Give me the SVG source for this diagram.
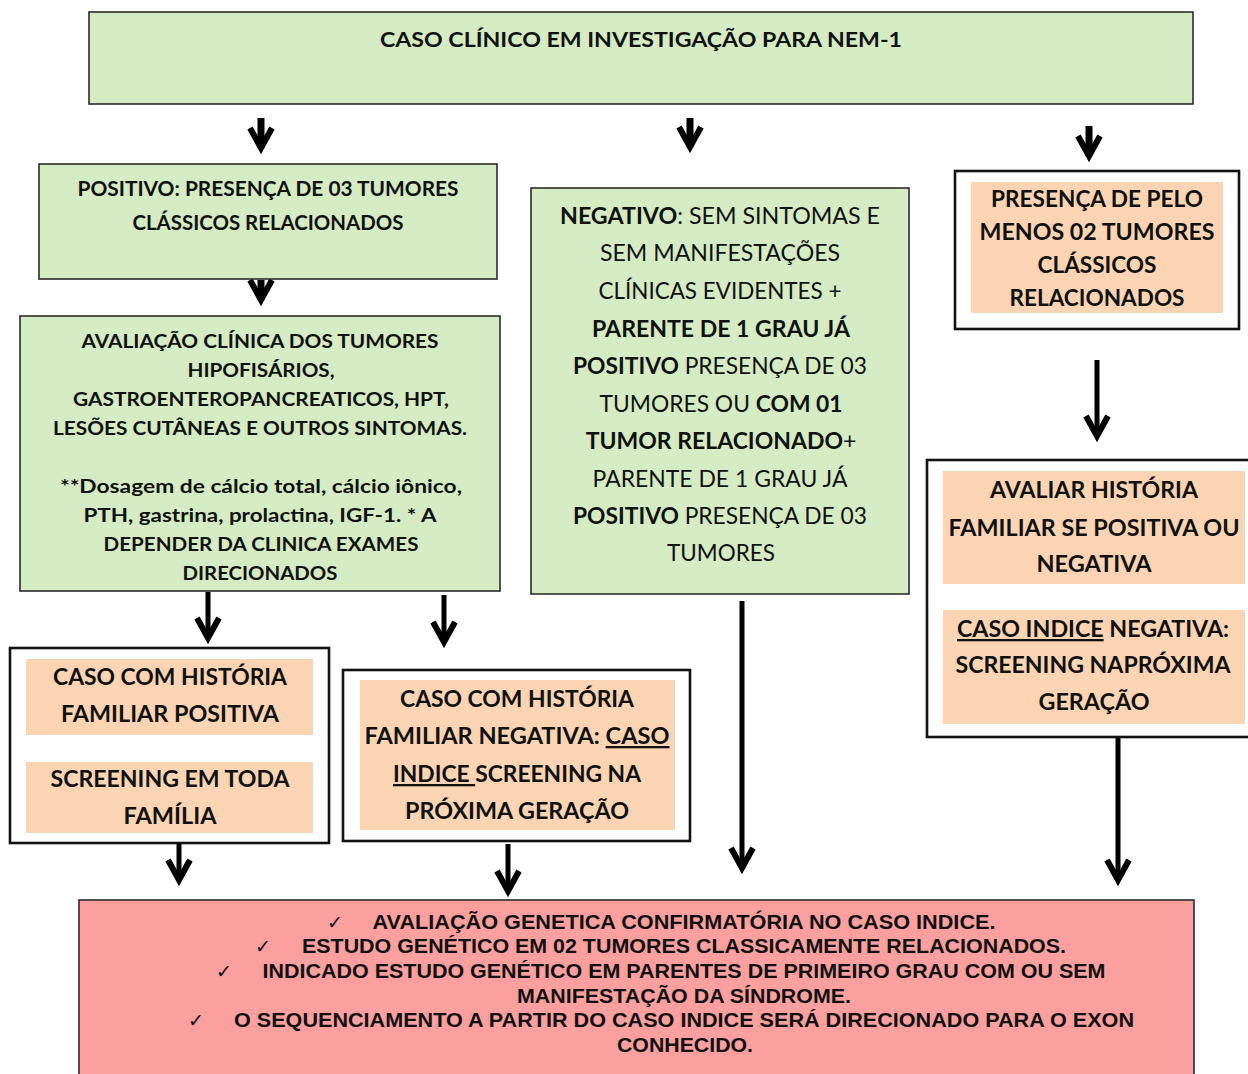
<svg xmlns="http://www.w3.org/2000/svg" width="1248" height="1074" viewBox="0 0 1248 1074">
<style>
.g{fill:#D5EBC3;stroke:#2b2b2b;stroke-width:1.6}
.w{fill:#ffffff;stroke:#111;stroke-width:2.6}
.p{fill:#FBD4B4;stroke:none}
.r{fill:#FB9F9F;stroke:#2b2b2b;stroke-width:1.6}
.t{font-family:Lato,"Liberation Sans",sans-serif;font-size:21px;fill:#111;text-anchor:middle}
.b{font-weight:bold}
.n{font-weight:normal}
.s{font-size:19px}
.l{font-size:23px}
.a{font-family:"Liberation Sans",Arial,sans-serif;font-weight:bold;font-size:20px;fill:#111;text-anchor:middle}
.ck{font-family:"DejaVu Sans",sans-serif;font-size:19px;fill:#111;text-anchor:middle}
.u{text-decoration:underline}
.c1{fill:none;stroke:#000;stroke-width:7}
.c2{fill:none;stroke:#000;stroke-width:5}
</style>
<defs>
<marker id="ah" markerUnits="userSpaceOnUse" orient="auto" markerWidth="40" markerHeight="40" refX="0" refY="0" viewBox="-30 -20 40 40" overflow="visible">
<path d="M-20,-11 L0,0 L-20,11" fill="none" stroke="#000" stroke-width="6" stroke-linejoin="miter"/>
</marker>
</defs>

<g id="connectors">
<line class="c1" x1="261" y1="118" x2="261" y2="148" marker-end="url(#ah)"/>
<line class="c1" x1="690" y1="118" x2="690" y2="147" marker-end="url(#ah)"/>
<line class="c1" x1="1089" y1="126" x2="1089" y2="156" marker-end="url(#ah)"/>
<line class="c1" x1="261" y1="280" x2="261" y2="300" marker-end="url(#ah)"/>
<line class="c2" x1="208" y1="592" x2="208" y2="638" marker-end="url(#ah)"/>
<line class="c2" x1="444" y1="595" x2="444" y2="642" marker-end="url(#ah)"/>
<line class="c2" x1="742" y1="601" x2="742" y2="868" marker-end="url(#ah)"/>
<line class="c2" x1="1097" y1="360" x2="1097" y2="436" marker-end="url(#ah)"/>
<line class="c2" x1="179" y1="843" x2="179" y2="880" marker-end="url(#ah)"/>
<line class="c2" x1="508" y1="844" x2="508" y2="891" marker-end="url(#ah)"/>
<line class="c2" x1="1118" y1="737" x2="1118" y2="880" marker-end="url(#ah)"/>
</g>

<g id="n-top">
<rect class="g" x="89" y="12" width="1104" height="92"/>
<text class="t b" x="641" y="47" textLength="522" lengthAdjust="spacingAndGlyphs">CASO CLÍNICO EM INVESTIGAÇÃO PARA NEM-1</text>
</g>

<g id="n-positivo">
<rect class="g" x="39" y="164" width="458" height="115"/>
<text class="t b" x="268" y="196" textLength="381" lengthAdjust="spacingAndGlyphs">POSITIVO: PRESENÇA DE 03 TUMORES</text>
<text class="t b" x="268" y="230" textLength="271" lengthAdjust="spacingAndGlyphs">CLÁSSICOS RELACIONADOS</text>
</g>

<g id="n-avaliacao">
<rect class="g" x="20" y="316" width="480" height="275"/>
<text class="t b s" x="260" y="348" textLength="357" lengthAdjust="spacingAndGlyphs">AVALIAÇÃO CLÍNICA DOS TUMORES</text>
<text class="t b s" x="261" y="377" textLength="147" lengthAdjust="spacingAndGlyphs">HIPOFISÁRIOS,</text>
<text class="t b s" x="261" y="406" textLength="376" lengthAdjust="spacingAndGlyphs">GASTROENTEROPANCREATICOS, HPT,</text>
<text class="t b s" x="260" y="435" textLength="414" lengthAdjust="spacingAndGlyphs">LESÕES CUTÂNEAS E OUTROS SINTOMAS.</text>
<text class="t b s" x="261" y="493" textLength="402" lengthAdjust="spacingAndGlyphs">**Dosagem de cálcio total, cálcio iônico,</text>
<text class="t b s" x="260" y="522" textLength="353" lengthAdjust="spacingAndGlyphs">PTH, gastrina, prolactina, IGF-1. * A</text>
<text class="t b s" x="261" y="551" textLength="315" lengthAdjust="spacingAndGlyphs">DEPENDER DA CLINICA EXAMES</text>
<text class="t b s" x="260" y="580" textLength="155" lengthAdjust="spacingAndGlyphs">DIRECIONADOS</text>
</g>

<g id="n-negativo">
<rect class="g" x="531" y="188" width="378" height="406"/>
<text class="t l" x="720" y="224" textLength="320" lengthAdjust="spacingAndGlyphs"><tspan class="b">NEGATIVO</tspan>: SEM SINTOMAS E</text>
<text class="t l" x="720" y="261" textLength="240" lengthAdjust="spacingAndGlyphs">SEM MANIFESTAÇÕES</text>
<text class="t l" x="720" y="299" textLength="243" lengthAdjust="spacingAndGlyphs">CLÍNICAS EVIDENTES +</text>
<text class="t l b" x="721" y="337" textLength="258" lengthAdjust="spacingAndGlyphs">PARENTE DE 1 GRAU JÁ</text>
<text class="t l" x="720" y="374" textLength="294" lengthAdjust="spacingAndGlyphs"><tspan class="b">POSITIVO</tspan> PRESENÇA DE 03</text>
<text class="t l" x="721" y="412" textLength="243" lengthAdjust="spacingAndGlyphs">TUMORES OU <tspan class="b">COM 01</tspan></text>
<text class="t l" x="721" y="449"><tspan class="b">TUMOR RELACIONADO</tspan>+</text>
<text class="t l" x="720" y="487" textLength="255" lengthAdjust="spacingAndGlyphs">PARENTE DE 1 GRAU JÁ</text>
<text class="t l" x="720" y="524" textLength="294" lengthAdjust="spacingAndGlyphs"><tspan class="b">POSITIVO</tspan> PRESENÇA DE 03</text>
<text class="t l" x="721" y="561" textLength="108" lengthAdjust="spacingAndGlyphs">TUMORES</text>
</g>

<g id="n-pelo-menos">
<rect class="w" x="955" y="171" width="284" height="158"/>
<rect class="p" x="971" y="182" width="252" height="131"/>
<text class="t b l" x="1097" y="207" textLength="212" lengthAdjust="spacingAndGlyphs">PRESENÇA DE PELO</text>
<text class="t b l" x="1097" y="240" textLength="235" lengthAdjust="spacingAndGlyphs">MENOS 02 TUMORES</text>
<text class="t b l" x="1097" y="273" textLength="119" lengthAdjust="spacingAndGlyphs">CLÁSSICOS</text>
<text class="t b l" x="1097" y="306" textLength="175" lengthAdjust="spacingAndGlyphs">RELACIONADOS</text>
</g>

<g id="n-avaliar-historia">
<rect class="w" x="927" y="460" width="330" height="277"/>
<rect class="p" x="943" y="471" width="302" height="113"/>
<rect class="p" x="943" y="610" width="302" height="114"/>
<text class="t b l" x="1094" y="498" textLength="208" lengthAdjust="spacingAndGlyphs">AVALIAR HISTÓRIA</text>
<text class="t b l" x="1094" y="536" textLength="291" lengthAdjust="spacingAndGlyphs">FAMILIAR SE POSITIVA OU</text>
<text class="t b l" x="1094" y="572" textLength="115" lengthAdjust="spacingAndGlyphs">NEGATIVA</text>
<text class="t b l" x="1093" y="637" textLength="272" lengthAdjust="spacingAndGlyphs"><tspan class="u">CASO INDICE</tspan> NEGATIVA:</text>
<text class="t b l" x="1093" y="673" textLength="275" lengthAdjust="spacingAndGlyphs">SCREENING NAPRÓXIMA</text>
<text class="t b l" x="1094" y="710" textLength="111" lengthAdjust="spacingAndGlyphs">GERAÇÃO</text>
</g>

<g id="n-hist-positiva">
<rect class="w" x="10" y="648" width="319" height="195"/>
<rect class="p" x="26" y="659" width="287" height="76"/>
<rect class="p" x="26" y="762" width="287" height="71"/>
<text class="t b l" x="170" y="685" textLength="234" lengthAdjust="spacingAndGlyphs">CASO COM HISTÓRIA</text>
<text class="t b l" x="170" y="722" textLength="218" lengthAdjust="spacingAndGlyphs">FAMILIAR POSITIVA</text>
<text class="t b l" x="170" y="787" textLength="239" lengthAdjust="spacingAndGlyphs">SCREENING EM TODA</text>
<text class="t b l" x="170" y="824" textLength="93" lengthAdjust="spacingAndGlyphs">FAMÍLIA</text>
</g>

<g id="n-hist-negativa">
<rect class="w" x="343" y="670" width="347" height="171"/>
<rect class="p" x="360" y="680" width="315" height="150"/>
<text class="t b l" x="517" y="707" textLength="234" lengthAdjust="spacingAndGlyphs">CASO COM HISTÓRIA</text>
<text class="t b l" x="517" y="744" textLength="305" lengthAdjust="spacingAndGlyphs">FAMILIAR NEGATIVA: <tspan class="u">CASO</tspan></text>
<text class="t b l" x="517" y="782" textLength="248" lengthAdjust="spacingAndGlyphs"><tspan class="u">INDICE </tspan>SCREENING NA</text>
<text class="t b l" x="517" y="819" textLength="224" lengthAdjust="spacingAndGlyphs">PRÓXIMA GERAÇÃO</text>
</g>

<g id="n-genetica">
<rect class="r" x="79" y="900" width="1115" height="200"/>
<text class="ck" x="335" y="929">✓</text>
<text class="a" x="684" y="929" textLength="623" lengthAdjust="spacingAndGlyphs">AVALIAÇÃO GENETICA CONFIRMATÓRIA NO CASO INDICE.</text>
<text class="ck" x="263" y="953">✓</text>
<text class="a" x="684" y="953" textLength="764" lengthAdjust="spacingAndGlyphs">ESTUDO GENÉTICO EM 02 TUMORES CLASSICAMENTE RELACIONADOS.</text>
<text class="ck" x="224" y="978">✓</text>
<text class="a" x="684" y="978" textLength="843" lengthAdjust="spacingAndGlyphs">INDICADO ESTUDO GENÉTICO EM PARENTES DE PRIMEIRO GRAU COM OU SEM</text>
<text class="a" x="684" y="1003" textLength="334" lengthAdjust="spacingAndGlyphs">MANIFESTAÇÃO DA SÍNDROME.</text>
<text class="ck" x="196" y="1027">✓</text>
<text class="a" x="684" y="1027" textLength="900" lengthAdjust="spacingAndGlyphs">O SEQUENCIAMENTO A PARTIR DO CASO INDICE SERÁ DIRECIONADO PARA O EXON</text>
<text class="a" x="685" y="1052" textLength="136" lengthAdjust="spacingAndGlyphs">CONHECIDO.</text>
</g>
</svg>
